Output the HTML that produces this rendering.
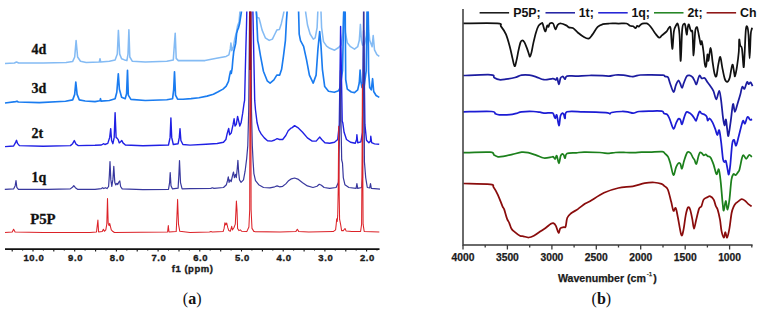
<!DOCTYPE html>
<html><head><meta charset="utf-8"><title>Figure</title>
<style>
html,body{margin:0;padding:0;background:#fff;}
body{width:763px;height:313px;overflow:hidden;}
svg{display:block;}
.nt{font-family:"Liberation Sans",sans-serif;font-weight:bold;font-size:9.5px;fill:#1a1a1a;stroke:#1a1a1a;stroke-width:0.35px;text-anchor:middle;letter-spacing:0.6px;}
.it{font-family:"Liberation Sans",sans-serif;font-weight:bold;font-size:10.3px;fill:#1a1a1a;stroke:#1a1a1a;stroke-width:0.25px;text-anchor:middle;}
.lg{font-family:"Liberation Sans",sans-serif;font-weight:bold;font-size:12.4px;fill:#111;}
.lab{font-family:"Liberation Serif",serif;font-weight:bold;font-size:14px;fill:#111;stroke:#111;stroke-width:0.3px;}
.cap{font-family:"Liberation Serif",serif;font-size:16px;fill:#111;text-anchor:middle;}
</style></head>
<body><svg width="763" height="313" viewBox="0 0 763 313">
<defs><clipPath id="cl"><rect x="0" y="11.6" width="400" height="240"/></clipPath></defs>
<g clip-path="url(#cl)" fill="none" stroke-linejoin="round">
<polyline points="5.0,63.5 14.4,63.0 16.5,62.0 18.7,63.0 43.1,63.0 66.1,62.5 72.6,61.6 74.7,57.0 76.1,40.5 77.6,57.0 80.5,61.3 86.2,62.5 99.3,62.0 100.0,58.7 100.7,62.0 109.4,61.3 115.1,59.9 117.3,54.1 118.4,30.4 119.7,54.1 121.6,58.7 124.5,59.9 126.9,60.6 128.0,54.1 128.9,29.7 129.8,57.0 132.4,61.3 145.3,62.0 166.8,61.3 173.3,59.9 174.7,39.8 175.2,33.3 176.2,58.4 178.3,60.6 195.0,60.6 205.0,60.6 216.5,58.3 226.1,56.4 228.9,54.8 230.3,48.7 230.9,43.0 231.8,50.6 233.4,46.8 234.7,39.1 236.6,31.5 237.6,25.7 239.1,21.9 239.9,11.9 240.4,2.0 255.8,2.0 256.2,11.8 257.0,17.4 259.0,18.0 260.2,22.5 262.1,30.1 265.3,37.8 269.2,40.4 272.4,39.1 274.9,34.0 276.8,30.1 279.4,29.5 281.3,23.7 283.0,16.1 283.9,11.8 284.3,2.0 305.2,2.0 305.6,11.8 307.5,25.0 310.1,34.0 313.3,39.1 315.2,37.8 317.1,27.6 317.8,11.8 318.2,2.0 320.6,2.0 321.0,11.8 321.6,27.6 323.5,41.6 326.6,46.1 329.8,48.3 334.6,50.2 338.6,47.5 341.0,45.1 342.9,32.3 343.6,11.8 343.8,2.0 344.1,2.0 344.2,11.8 345.4,32.3 347.3,42.7 350.5,46.7 354.5,49.1 357.7,46.7 359.3,40.3 360.4,24.4 361.4,40.3 362.5,45.1 364.5,44.4 366.5,35.4 367.2,11.8 367.5,2.0 368.0,2.0 368.3,11.8 368.8,30.4 369.7,40.3 372.1,46.7 373.2,35.5 374.5,49.9 376.9,54.7 379.3,56.4" stroke="#84bbf4" stroke-width="1.55"/>
<polyline points="5.0,103.0 15.7,101.6 17.0,101.2 18.3,102.0 39.3,102.6 65.5,101.2 72.7,99.9 74.7,94.4 75.8,82.0 77.1,94.4 79.3,99.9 85.2,101.0 95.0,101.6 100.0,100.8 100.5,98.7 101.0,101.1 109.4,100.5 115.1,98.7 116.8,92.2 118.3,73.8 119.4,89.3 121.6,97.2 125.2,98.7 126.6,93.6 127.5,70.4 128.3,95.1 130.9,99.4 145.3,100.5 166.8,99.7 172.6,98.7 173.7,89.3 174.5,71.8 175.5,95.1 177.6,99.1 183.0,99.3 191.0,98.6 199.0,97.7 207.0,96.1 213.4,94.2 218.2,91.8 223.0,89.1 226.2,86.2 228.5,81.4 229.7,75.0 230.6,71.0 231.3,73.4 232.2,67.8 232.8,60.4 233.7,51.8 235.7,43.2 236.6,33.6 237.6,29.8 238.5,27.8 239.5,24.0 241.4,11.8 241.8,2.0 256.0,2.0 256.4,11.8 257.7,40.6 258.6,44.6 260.5,55.9 263.4,71.2 267.2,80.8 270.1,83.1 273.9,79.9 276.8,75.1 279.7,75.1 281.6,69.3 283.5,55.9 285.4,40.6 286.4,21.4 287.1,11.8 287.5,2.0 298.2,2.0 298.6,11.8 299.2,34.2 300.5,40.6 303.6,46.3 306.5,59.7 309.4,75.1 313.2,83.1 316.1,75.1 318.0,48.3 319.7,31.6 320.9,44.4 322.4,69.3 324.7,86.6 328.5,91.3 334.3,92.3 338.6,90.7 340.2,87.5 342.5,70.6 343.8,11.8 344.3,2.0 344.8,2.0 345.2,11.8 345.7,79.5 347.3,89.1 351.3,92.0 354.5,92.6 357.7,89.9 359.3,82.7 360.1,70.0 361.1,82.7 362.0,87.5 364.0,87.6 366.2,70.6 367.1,11.8 367.4,2.0 367.9,2.0 368.1,11.8 368.6,71.6 369.7,87.5 371.3,89.9 372.6,78.7 373.7,91.5 376.1,95.5 379.3,97.4" stroke="#1a7cf0" stroke-width="1.65"/>
<polyline points="5.0,146.6 13.6,146.0 15.5,142.7 16.5,140.3 17.5,143.4 19.4,145.6 43.1,146.3 70.4,145.6 72.6,143.7 74.3,140.6 76.1,144.2 78.3,145.6 95.0,145.3 101.4,145.0 103.8,143.7 104.9,144.5 107.8,143.4 109.7,137.4 110.7,128.6 111.6,140.5 112.9,143.7 114.2,137.4 115.1,112.6 116.1,137.4 117.0,138.1 118.2,139.7 119.3,142.9 120.6,141.8 121.8,140.5 123.0,142.9 125.4,145.0 142.9,145.7 168.5,145.0 170.1,137.4 170.9,117.9 171.7,137.4 173.3,144.5 178.1,143.7 179.3,137.4 180.0,128.6 180.9,140.5 182.9,144.5 190.0,145.1 206.0,144.3 217.2,143.5 223.5,142.3 225.9,139.5 227.1,133.9 228.0,130.8 228.7,128.4 229.6,134.7 231.2,133.1 233.1,124.4 234.1,118.8 235.0,126.0 236.3,124.4 237.6,116.4 238.7,121.2 239.8,126.0 241.1,122.8 242.7,113.2 244.0,103.6 244.6,100.4 245.2,75.4 245.8,50.4 246.5,25.4 246.8,11.8 247.0,2.0 252.7,2.0 252.9,11.8 253.3,30.4 253.9,60.4 254.4,85.4 254.7,100.4 255.5,110.0 257.1,122.8 259.0,130.0 261.1,133.9 264.3,137.9 267.5,140.7 271.5,141.1 274.7,140.0 277.1,138.7 279.5,139.5 282.7,139.5 285.8,135.5 288.2,130.8 290.6,128.4 292.2,127.6 294.6,125.6 297.8,127.6 302.6,132.3 307.4,137.9 312.2,141.1 316.2,141.1 318.5,138.4 319.8,137.1 321.7,139.5 324.9,142.7 329.7,143.2 334.5,142.3 337.7,139.5 339.3,124.4 340.2,60.4 340.6,26.4 341.2,60.4 342.2,121.2 342.8,122.8 344.1,132.3 346.5,139.5 350.5,142.3 355.3,143.2 356.6,139.5 356.9,134.7 357.7,142.7 360.9,141.9 362.5,132.3 363.3,60.4 363.6,30.4 364.1,60.4 364.9,124.4 366.5,140.3 368.9,142.7 370.5,141.1 370.8,136.3 371.6,142.7 374.5,143.9 379.2,144.3" stroke="#2020e4" stroke-width="1.4"/>
<polyline points="4.8,189.4 13.6,188.9 15.2,185.7 16.0,180.6 16.8,187.3 18.4,189.3 47.9,189.4 70.3,188.9 72.7,187.0 73.8,185.7 75.4,187.7 77.5,189.3 95.0,189.3 101.4,188.6 102.7,187.7 103.8,188.6 105.4,187.7 107.0,188.6 108.6,186.5 109.4,174.6 110.0,161.5 110.8,179.4 111.8,186.5 112.9,179.4 113.8,166.3 114.8,182.6 115.8,184.9 116.9,183.3 117.7,184.5 119.0,181.8 119.8,181.0 120.6,186.5 122.2,188.9 142.9,189.7 168.5,189.3 169.6,182.6 170.2,172.6 171.0,185.7 172.5,188.9 178.1,188.1 178.9,174.6 179.5,160.5 180.5,182.6 182.1,188.9 190.0,188.7 210.8,188.4 212.4,187.8 214.0,188.4 223.5,187.5 226.4,184.7 227.5,180.7 228.3,176.8 229.1,182.3 229.9,179.9 231.2,181.5 232.8,174.4 233.5,172.0 234.4,177.6 235.5,174.4 236.3,177.6 237.3,168.0 237.9,160.3 238.7,172.8 239.5,179.9 241.1,182.3 243.5,179.9 245.1,171.2 246.7,158.4 247.8,145.6 248.7,110.6 249.6,11.8 249.7,2.0 250.9,2.0 251.0,11.8 251.5,110.6 252.3,145.6 253.1,161.6 253.9,173.6 255.5,180.7 258.7,184.7 263.5,187.5 269.9,187.9 274.7,186.8 277.1,185.9 279.5,186.8 282.7,186.3 285.8,183.9 288.2,181.1 291.4,178.8 294.6,178.0 297.8,179.1 302.6,182.7 307.4,185.9 313.0,187.5 317.0,186.3 319.3,184.3 321.4,185.2 324.1,187.5 329.7,188.4 336.1,187.5 338.5,182.3 339.8,120.6 340.4,70.6 341.0,120.6 341.7,160.0 342.5,163.2 343.3,177.6 344.9,184.7 348.9,187.5 356.1,188.4 356.9,183.6 357.7,188.4 361.7,187.5 362.5,177.6 363.2,60.6 363.5,11.8 363.6,2.0 363.9,2.0 364.0,11.8 364.4,161.6 365.7,177.6 367.3,187.5 369.7,187.9 370.5,183.6 371.3,188.4 374.5,188.7 380.0,189.1" stroke="#38389e" stroke-width="1.2"/>
<polyline points="5.0,232.5 12.2,232.0 13.6,229.2 15.1,232.0 43.1,232.5 90.0,232.5 96.5,232.0 97.9,220.1 98.6,232.0 102.2,231.6 103.4,229.2 104.4,231.3 105.8,229.9 106.8,224.1 107.5,198.6 108.2,223.4 109.1,225.6 109.7,223.4 110.4,226.3 111.3,229.9 112.3,231.0 114.4,232.5 167.6,232.0 168.3,225.6 169.0,232.0 176.2,231.6 176.9,217.0 177.6,199.4 178.5,224.1 179.8,231.3 190.0,232.5 209.4,232.0 210.9,231.6 212.3,232.0 223.1,231.6 224.1,228.4 224.9,222.7 225.7,224.9 226.7,223.0 227.8,227.7 228.8,230.6 230.3,231.3 231.7,226.3 232.4,229.9 233.9,227.7 235.3,224.1 236.0,209.8 236.4,201.1 237.0,209.8 237.6,228.4 238.9,230.6 240.3,229.9 241.8,231.3 246.8,231.6 248.9,227.0 249.7,209.8 250.1,11.8 250.2,2.0 250.6,2.0 250.7,11.8 251.1,209.8 252.0,228.4 254.0,231.6 280.0,232.1 295.8,231.6 297.3,229.2 298.7,231.4 308.8,232.1 333.2,231.6 335.6,229.9 336.2,224.4 336.7,218.9 337.2,221.4 337.7,215.4 338.2,190.4 338.7,126.4 339.2,195.4 339.6,219.4 340.1,221.9 340.7,224.9 341.6,230.6 343.3,230.6 345.0,228.5 346.2,231.1 351.9,231.6 360.6,231.4 361.6,224.2 362.1,150.4 362.4,84.4 362.7,150.4 363.1,224.2 364.2,231.4 379.3,232.1" stroke="#dc2228" stroke-width="1.05"/>
<line x1="250.2" y1="11.6" x2="250.2" y2="70" stroke="#9c0c20" stroke-width="2.2"/>
</g>
<line x1="5" y1="249.2" x2="379.5" y2="249.2" stroke="#111" stroke-width="1.7"/>
<path d="M12.2,249 v2.6 M22.6,249 v1.6 M33.0,249 v2.6 M43.4,249 v1.6 M53.8,249 v2.6 M64.3,249 v1.6 M74.7,249 v2.6 M85.1,249 v1.6 M95.6,249 v2.6 M106.0,249 v1.6 M116.4,249 v2.6 M126.8,249 v1.6 M137.2,249 v2.6 M147.7,249 v1.6 M158.1,249 v2.6 M168.5,249 v1.6 M179.0,249 v2.6 M189.4,249 v1.6 M199.8,249 v2.6 M210.2,249 v1.6 M220.7,249 v2.6 M231.1,249 v1.6 M241.5,249 v2.6 M251.9,249 v1.6 M262.4,249 v2.6 M272.8,249 v1.6 M283.2,249 v2.6 M293.6,249 v1.6 M304.1,249 v2.6 M314.5,249 v1.6 M324.9,249 v2.6 M335.3,249 v1.6 M345.8,249 v2.6 M356.2,249 v1.6 M366.6,249 v2.6 M377.0,249 v1.6" stroke="#111" stroke-width="1.1"/>
<text x="33.9" y="260.8" class="nt">10.0</text>
<text x="75.6" y="260.8" class="nt">9.0</text>
<text x="117.3" y="260.8" class="nt">8.0</text>
<text x="159.0" y="260.8" class="nt">7.0</text>
<text x="200.7" y="260.8" class="nt">6.0</text>
<text x="242.4" y="260.8" class="nt">5.0</text>
<text x="284.1" y="260.8" class="nt">4.0</text>
<text x="325.8" y="260.8" class="nt">3.0</text>
<text x="367.5" y="260.8" class="nt">2.0</text>
<text x="192.6" y="271.5" class="nt" style="letter-spacing:0.5px">f1 (ppm)</text>
<text x="31.5" y="53.8" class="lab">4d</text>
<text x="31.5" y="92.8" class="lab">3d</text>
<text x="31.5" y="137.6" class="lab">2t</text>
<text x="31.5" y="181.7" class="lab">1q</text>
<text x="30.2" y="223.7" class="lab" style="font-size:14.8px">P5P</text>
<g fill="none" stroke-linejoin="round" stroke-width="1.75">
<path d="M463.30,23.40 C468.98,23.40 491.12,22.90 497.40,23.40 C503.68,23.90 499.57,24.57 501.00,26.40 C502.43,28.23 504.50,30.90 506.00,34.40 C507.50,37.90 508.92,43.40 510.00,47.40 C511.08,51.40 511.73,55.27 512.50,58.40 C513.27,61.53 513.93,65.87 514.60,66.20 C515.27,66.53 515.85,63.03 516.50,60.40 C517.15,57.77 517.83,53.40 518.50,50.40 C519.17,47.40 519.87,44.07 520.50,42.40 C521.13,40.73 521.63,40.40 522.30,40.40 C522.97,40.40 523.72,41.07 524.50,42.40 C525.28,43.73 526.25,46.40 527.00,48.40 C527.75,50.40 528.50,53.03 529.00,54.40 C529.50,55.77 529.58,56.93 530.00,56.60 C530.42,56.27 530.92,54.77 531.50,52.40 C532.08,50.03 532.75,45.73 533.50,42.40 C534.25,39.07 535.17,35.15 536.00,32.40 C536.83,29.65 537.60,27.40 538.50,25.90 C539.40,24.40 540.72,23.80 541.40,23.40 C542.08,23.00 541.97,22.17 542.60,23.50 C543.23,24.83 544.43,31.08 545.20,31.40 C545.97,31.72 546.65,26.17 547.20,25.40 C547.75,24.63 548.07,27.12 548.50,26.80 C548.93,26.48 549.03,24.05 549.80,23.50 C550.57,22.95 552.15,22.52 553.10,23.50 C554.05,24.48 554.73,29.18 555.50,29.40 C556.27,29.62 556.78,25.78 557.70,24.80 C558.62,23.82 559.58,23.40 561.00,23.50 C562.42,23.60 564.90,24.75 566.20,25.40 C567.50,26.05 567.70,26.95 568.80,27.40 C569.90,27.85 571.27,27.22 572.80,28.10 C574.33,28.98 576.27,31.28 578.00,32.70 C579.73,34.12 581.45,35.62 583.20,36.60 C584.95,37.58 586.97,38.93 588.50,38.60 C590.03,38.27 590.87,36.57 592.40,34.60 C593.93,32.63 595.95,28.53 597.70,26.80 C599.45,25.07 600.93,24.75 602.90,24.20 C604.87,23.65 606.88,23.62 609.50,23.50 C612.12,23.38 615.77,23.50 618.60,23.50 C621.43,23.50 624.60,23.12 626.50,23.50 C628.40,23.88 628.88,25.33 630.00,25.80 C631.12,26.27 632.27,25.90 633.20,26.30 C634.13,26.70 634.93,28.28 635.60,28.20 C636.27,28.12 636.67,26.07 637.20,25.80 C637.73,25.53 638.13,26.87 638.80,26.60 C639.47,26.33 640.27,24.73 641.20,24.20 C642.13,23.67 643.47,23.53 644.40,23.40 C645.33,23.27 646.02,23.13 646.80,23.40 C647.58,23.67 648.18,24.07 649.10,25.00 C650.02,25.93 651.23,27.53 652.30,29.00 C653.37,30.47 654.35,32.35 655.50,33.80 C656.65,35.25 658.13,37.43 659.20,37.70 C660.27,37.97 660.65,36.45 661.90,35.40 C663.15,34.35 665.50,32.73 666.70,31.40 C667.90,30.07 668.43,27.80 669.10,27.40 C669.77,27.00 670.17,25.42 670.70,29.00 C671.23,32.58 671.77,48.50 672.30,48.90 C672.83,49.30 673.23,35.38 673.90,31.40 C674.57,27.42 675.63,26.20 676.30,25.00 C676.97,23.80 677.37,22.63 677.90,24.20 C678.43,25.77 679.03,28.28 679.50,34.40 C679.97,40.52 680.25,61.75 680.70,60.90 C681.15,60.05 681.63,35.48 682.20,29.30 C682.77,23.12 683.57,24.35 684.10,23.80 C684.63,23.25 684.97,24.18 685.40,26.00 C685.83,27.82 686.30,34.52 686.70,34.70 C687.10,34.88 687.43,28.82 687.80,27.10 C688.17,25.38 688.48,24.03 688.90,24.40 C689.32,24.77 689.88,28.13 690.30,29.30 C690.72,30.47 691.03,30.87 691.40,31.40 C691.77,31.93 692.13,28.50 692.50,32.50 C692.87,36.50 693.15,55.58 693.60,55.40 C694.05,55.22 694.67,36.12 695.20,31.40 C695.73,26.68 696.35,27.27 696.80,27.10 C697.25,26.93 697.43,28.40 697.90,30.40 C698.37,32.40 699.13,36.75 699.60,39.10 C700.07,41.45 700.35,44.15 700.70,44.50 C701.05,44.85 701.25,40.12 701.70,41.20 C702.15,42.28 702.87,47.10 703.40,51.00 C703.93,54.90 704.43,62.13 704.90,64.60 C705.37,67.07 705.77,67.50 706.20,65.80 C706.63,64.10 707.13,55.25 707.50,54.40 C707.87,53.55 707.87,61.77 708.40,60.70 C708.93,59.63 710.00,47.78 710.70,48.00 C711.40,48.22 711.97,57.75 712.60,62.00 C713.23,66.25 713.87,71.15 714.50,73.50 C715.13,75.85 715.77,77.58 716.40,76.10 C717.03,74.62 717.65,67.80 718.30,64.60 C718.95,61.40 719.65,56.48 720.30,56.90 C720.95,57.32 721.47,63.48 722.20,67.10 C722.93,70.72 723.85,76.15 724.70,78.60 C725.55,81.05 726.45,82.00 727.30,81.80 C728.15,81.60 728.95,80.27 729.80,77.40 C730.65,74.53 731.65,65.25 732.40,64.60 C733.15,63.95 733.87,71.58 734.30,73.50 C734.73,75.42 734.57,77.17 735.00,76.10 C735.43,75.03 736.27,71.15 736.90,67.10 C737.53,63.05 738.42,56.38 738.80,51.80 C739.18,47.22 738.95,40.63 739.20,39.60 C739.45,38.57 739.83,44.07 740.30,45.60 C740.77,47.13 741.45,45.22 742.00,48.80 C742.55,52.38 743.18,65.97 743.60,67.10 C744.02,68.23 744.13,61.72 744.50,55.60 C744.87,49.48 745.35,35.23 745.80,30.40 C746.25,25.57 746.75,25.88 747.20,26.60 C747.65,27.32 748.10,29.40 748.50,34.70 C748.90,40.00 749.23,58.40 749.60,58.40 C749.97,58.40 750.35,39.55 750.70,34.70 C751.05,29.85 751.45,30.47 751.70,29.30 C751.95,28.13 752.12,27.97 752.20,27.70" stroke="#111111"/>
<path d="M463.30,75.50 C467.88,75.38 485.67,74.47 490.80,74.80 C495.93,75.13 492.68,76.68 494.10,77.50 C495.52,78.32 497.33,79.42 499.30,79.70 C501.27,79.98 503.28,79.57 505.90,79.20 C508.52,78.83 512.38,78.17 515.00,77.50 C517.62,76.83 519.18,75.58 521.60,75.20 C524.02,74.82 527.10,74.93 529.50,75.20 C531.90,75.47 533.60,76.05 536.00,76.80 C538.40,77.55 541.28,79.37 543.90,79.70 C546.52,80.03 550.03,78.95 551.70,78.80 C553.37,78.65 553.20,78.60 553.90,78.80 C554.60,79.00 555.35,80.12 555.90,80.00 C556.45,79.88 556.70,77.37 557.20,78.10 C557.70,78.83 558.35,84.40 558.90,84.40 C559.45,84.40 559.90,79.42 560.50,78.10 C561.10,76.78 561.95,76.60 562.50,76.50 C563.05,76.40 563.37,77.05 563.80,77.50 C564.23,77.95 564.57,79.43 565.10,79.20 C565.63,78.97 565.15,76.62 567.00,76.10 C568.85,75.58 572.48,76.20 576.20,76.10 C579.92,76.00 584.93,75.57 589.30,75.50 C593.67,75.43 599.12,75.60 602.40,75.70 C605.68,75.80 606.82,76.22 609.00,76.10 C611.18,75.98 613.10,75.15 615.50,75.00 C617.90,74.85 620.77,74.95 623.40,75.20 C626.03,75.45 629.33,76.35 631.30,76.50 C633.27,76.65 633.68,76.35 635.20,76.10 C636.72,75.85 637.93,75.22 640.40,75.00 C642.87,74.78 646.23,74.78 650.00,74.80 C653.77,74.82 660.48,74.82 663.00,75.10 C665.52,75.38 664.27,76.15 665.10,76.50 C665.93,76.85 667.15,76.00 668.00,77.20 C668.85,78.40 669.28,81.23 670.20,83.70 C671.12,86.17 672.55,91.77 673.50,92.00 C674.45,92.23 675.08,87.02 675.90,85.10 C676.72,83.18 677.67,80.73 678.40,80.50 C679.13,80.27 679.68,82.45 680.30,83.70 C680.92,84.95 681.52,88.12 682.10,88.00 C682.68,87.88 683.03,84.97 683.80,83.00 C684.57,81.03 685.73,77.47 686.70,76.20 C687.67,74.93 688.63,75.23 689.60,75.40 C690.57,75.57 691.67,76.30 692.50,77.20 C693.33,78.10 693.95,79.60 694.60,80.80 C695.25,82.00 695.80,84.75 696.40,84.40 C697.00,84.05 697.65,80.20 698.20,78.70 C698.75,77.20 699.12,75.45 699.70,75.40 C700.28,75.35 700.88,77.97 701.70,78.40 C702.52,78.83 703.63,77.35 704.60,78.00 C705.57,78.65 706.67,81.13 707.50,82.30 C708.33,83.47 708.62,83.58 709.60,85.00 C710.58,86.42 712.28,88.40 713.40,90.80 C714.52,93.20 715.33,99.40 716.30,99.40 C717.27,99.40 718.40,90.65 719.20,90.80 C720.00,90.95 720.47,95.83 721.10,100.30 C721.73,104.77 722.43,113.43 723.00,117.60 C723.57,121.77 724.02,124.98 724.50,125.30 C724.98,125.62 725.45,118.87 725.90,119.50 C726.35,120.13 726.78,126.38 727.20,129.10 C727.62,131.82 727.82,137.08 728.40,135.80 C728.98,134.52 729.93,126.67 730.70,121.40 C731.47,116.13 732.30,105.80 733.00,104.20 C733.70,102.60 734.17,111.80 734.90,111.80 C735.63,111.80 736.50,107.07 737.40,104.20 C738.30,101.33 739.50,97.48 740.30,94.60 C741.10,91.72 741.50,87.87 742.20,86.90 C742.90,85.93 743.70,89.62 744.50,88.80 C745.30,87.98 746.30,82.77 747.00,82.00 C747.70,81.23 748.10,84.15 748.70,84.20 C749.30,84.25 749.97,81.98 750.60,82.30 C751.23,82.62 752.18,85.47 752.50,86.10" stroke="#1c1ca0"/>
<path d="M463.30,111.80 C468.00,111.75 486.15,111.17 491.50,111.50 C496.85,111.83 494.10,113.25 495.40,113.80 C496.70,114.35 496.90,114.65 499.30,114.80 C501.70,114.95 506.95,114.93 509.80,114.70 C512.65,114.47 514.43,113.88 516.40,113.40 C518.37,112.92 518.77,112.12 521.60,111.80 C524.43,111.48 530.35,111.43 533.40,111.50 C536.45,111.57 538.15,111.93 539.90,112.20 C541.65,112.47 541.93,113.00 543.90,113.10 C545.87,113.20 550.13,112.68 551.70,112.80 C553.27,112.92 552.72,112.88 553.30,113.80 C553.88,114.72 554.62,118.08 555.20,118.30 C555.78,118.52 556.18,113.88 556.80,115.10 C557.42,116.32 558.28,125.50 558.90,125.60 C559.52,125.70 559.90,117.78 560.50,115.70 C561.10,113.62 561.95,113.32 562.50,113.10 C563.05,112.88 563.37,113.53 563.80,114.40 C564.23,115.27 564.57,118.73 565.10,118.30 C565.63,117.87 564.05,112.88 567.00,111.80 C569.95,110.72 577.98,111.75 582.80,111.80 C587.62,111.85 591.75,111.93 595.90,112.10 C600.05,112.27 605.35,112.52 607.70,112.80 C610.05,113.08 609.35,113.85 610.00,113.80 C610.65,113.75 609.58,112.88 611.60,112.50 C613.62,112.12 619.27,111.57 622.10,111.50 C624.93,111.43 626.75,111.83 628.60,112.10 C630.45,112.37 631.45,113.20 633.20,113.10 C634.95,113.00 636.30,111.83 639.10,111.50 C641.90,111.17 646.22,111.15 650.00,111.10 C653.78,111.05 659.45,110.78 661.80,111.20 C664.15,111.62 663.18,113.02 664.10,113.60 C665.02,114.18 666.37,113.78 667.30,114.70 C668.23,115.62 668.68,116.77 669.70,119.10 C670.72,121.43 672.33,128.03 673.40,128.70 C674.47,129.37 675.25,124.75 676.10,123.10 C676.95,121.45 677.78,119.33 678.50,118.80 C679.22,118.27 679.82,118.98 680.40,119.90 C680.98,120.82 681.38,124.68 682.00,124.30 C682.62,123.92 683.35,119.65 684.10,117.60 C684.85,115.55 685.57,112.75 686.50,112.00 C687.43,111.25 688.77,112.57 689.70,113.10 C690.63,113.63 691.30,114.32 692.10,115.20 C692.90,116.08 693.83,117.48 694.50,118.40 C695.17,119.32 695.57,121.10 696.10,120.70 C696.63,120.30 697.12,117.53 697.70,116.00 C698.28,114.47 698.95,111.90 699.60,111.50 C700.25,111.10 700.73,113.07 701.60,113.60 C702.47,114.13 703.95,114.20 704.80,114.70 C705.65,115.20 706.22,115.63 706.70,116.60 C707.18,117.57 707.22,120.18 707.70,120.50 C708.18,120.82 708.80,118.18 709.60,118.50 C710.40,118.82 711.55,120.63 712.50,122.40 C713.45,124.17 714.50,127.00 715.30,129.10 C716.10,131.20 716.65,134.80 717.30,135.00 C717.95,135.20 718.57,129.17 719.20,130.30 C719.83,131.43 720.47,137.00 721.10,141.80 C721.73,146.60 722.43,155.73 723.00,159.10 C723.57,162.47 724.02,161.68 724.50,162.00 C724.98,162.32 725.35,159.57 725.90,161.00 C726.45,162.43 727.32,168.37 727.80,170.60 C728.28,172.83 728.38,175.37 728.80,174.40 C729.22,173.43 729.73,169.90 730.30,164.80 C730.87,159.70 731.57,147.95 732.20,143.80 C732.83,139.65 733.47,139.58 734.10,139.90 C734.73,140.22 735.30,146.02 736.00,145.70 C736.70,145.38 737.43,141.20 738.30,138.00 C739.17,134.80 740.40,129.37 741.20,126.50 C742.00,123.63 742.47,121.28 743.10,120.80 C743.73,120.32 744.27,124.25 745.00,123.60 C745.73,122.95 746.63,117.53 747.50,116.90 C748.37,116.27 749.43,119.42 750.20,119.80 C750.97,120.18 751.78,119.30 752.10,119.20" stroke="#1c1cd4"/>
<path d="M463.30,152.70 C467.77,152.62 484.97,151.80 490.10,152.20 C495.23,152.60 492.78,154.33 494.10,155.10 C495.42,155.87 496.47,156.58 498.00,156.80 C499.53,157.02 500.90,156.80 503.30,156.40 C505.70,156.00 509.35,155.10 512.40,154.40 C515.45,153.70 518.97,152.48 521.60,152.20 C524.23,151.92 525.80,152.22 528.20,152.70 C530.60,153.18 533.38,154.22 536.00,155.10 C538.62,155.98 541.28,157.68 543.90,158.00 C546.52,158.32 550.13,157.20 551.70,157.00 C553.27,156.80 552.72,156.47 553.30,156.80 C553.88,157.13 554.62,159.18 555.20,159.00 C555.78,158.82 556.18,154.98 556.80,155.70 C557.42,156.42 558.25,163.30 558.90,163.30 C559.55,163.30 560.10,157.28 560.70,155.70 C561.30,154.12 561.98,153.90 562.50,153.80 C563.02,153.70 563.37,154.38 563.80,155.10 C564.23,155.82 564.57,158.37 565.10,158.10 C565.63,157.83 565.15,154.38 567.00,153.50 C568.85,152.62 573.35,153.03 576.20,152.80 C579.05,152.57 580.17,152.15 584.10,152.10 C588.03,152.05 595.65,152.28 599.80,152.50 C603.95,152.72 606.38,153.40 609.00,153.40 C611.62,153.40 612.67,152.65 615.50,152.50 C618.33,152.35 622.93,152.47 626.00,152.50 C629.07,152.53 631.28,152.75 633.90,152.70 C636.52,152.65 639.02,152.30 641.70,152.20 C644.38,152.10 646.58,152.20 650.00,152.10 C653.42,152.00 659.70,151.35 662.20,151.60 C664.70,151.85 664.02,152.73 665.00,153.60 C665.98,154.47 667.18,155.08 668.10,156.80 C669.02,158.52 669.62,160.85 670.50,163.90 C671.38,166.95 672.47,174.57 673.40,175.10 C674.33,175.63 675.25,169.10 676.10,167.10 C676.95,165.10 677.78,163.63 678.50,163.10 C679.22,162.57 679.82,162.97 680.40,163.90 C680.98,164.83 681.38,169.23 682.00,168.70 C682.62,168.17 683.22,163.42 684.10,160.70 C684.98,157.98 686.23,153.67 687.30,152.40 C688.37,151.13 689.57,152.23 690.50,153.10 C691.43,153.97 692.23,156.47 692.90,157.60 C693.57,158.73 693.92,158.85 694.50,159.90 C695.08,160.95 695.73,164.55 696.40,163.90 C697.07,163.25 697.90,157.92 698.50,156.00 C699.10,154.08 699.43,152.85 700.00,152.40 C700.57,151.95 701.27,152.82 701.90,153.30 C702.53,153.78 703.15,155.13 703.80,155.30 C704.45,155.47 705.15,154.15 705.80,154.30 C706.45,154.45 706.92,155.67 707.70,156.20 C708.48,156.73 709.52,156.10 710.50,157.50 C711.48,158.90 712.60,161.82 713.60,164.60 C714.60,167.38 715.63,173.40 716.50,174.20 C717.37,175.00 718.10,168.13 718.80,169.40 C719.50,170.67 720.07,176.22 720.70,181.80 C721.33,187.38 722.08,198.10 722.60,202.90 C723.12,207.70 723.28,210.92 723.80,210.60 C724.32,210.28 725.07,201.17 725.70,201.00 C726.33,200.83 726.97,209.92 727.60,209.60 C728.23,209.28 728.87,204.05 729.50,199.10 C730.13,194.15 730.75,184.05 731.40,179.90 C732.05,175.75 732.68,175.00 733.40,174.20 C734.12,173.40 734.93,175.43 735.70,175.10 C736.47,174.77 737.37,173.15 738.00,172.20 C738.63,171.25 738.87,171.63 739.50,169.40 C740.13,167.17 741.17,161.20 741.80,158.80 C742.43,156.40 742.57,155.00 743.30,155.00 C744.03,155.00 745.23,158.80 746.20,158.80 C747.17,158.80 748.15,155.32 749.10,155.00 C750.05,154.68 751.43,156.58 751.90,156.90" stroke="#1c801c"/>
<path d="M463.40,183.50 C467.87,183.65 485.17,183.77 490.20,184.40 C495.23,185.03 492.30,185.52 493.60,187.30 C494.90,189.08 496.52,191.93 498.00,195.10 C499.48,198.27 501.48,203.97 502.50,206.30 C503.52,208.63 503.35,207.05 504.10,209.10 C504.85,211.15 506.13,216.27 507.00,218.60 C507.87,220.93 508.55,221.42 509.30,223.10 C510.05,224.78 510.62,227.23 511.50,228.70 C512.38,230.17 513.20,230.72 514.60,231.90 C516.00,233.08 518.43,235.07 519.90,235.80 C521.37,236.53 521.93,236.02 523.40,236.30 C524.87,236.58 526.95,237.58 528.70,237.50 C530.45,237.42 531.85,236.88 533.90,235.80 C535.95,234.72 538.95,232.38 541.00,231.00 C543.05,229.62 544.60,228.67 546.20,227.50 C547.80,226.33 549.42,224.73 550.60,224.00 C551.78,223.27 552.42,222.80 553.30,223.10 C554.18,223.40 555.03,224.18 555.90,225.80 C556.77,227.42 557.77,232.37 558.50,232.80 C559.23,233.23 559.42,229.33 560.30,228.40 C561.18,227.47 562.92,227.50 563.80,227.20 C564.68,226.90 565.02,228.17 565.60,226.60 C566.18,225.03 566.43,219.98 567.30,217.80 C568.17,215.62 569.03,214.95 570.80,213.50 C572.57,212.05 575.55,210.72 577.90,209.10 C580.25,207.48 582.88,205.12 584.90,203.80 C586.92,202.48 586.82,203.03 590.00,201.20 C593.18,199.37 599.27,195.00 604.00,192.80 C608.73,190.60 613.60,189.08 618.40,188.00 C623.20,186.92 628.42,187.10 632.80,186.30 C637.18,185.50 641.12,183.83 644.70,183.20 C648.28,182.57 651.50,182.38 654.30,182.50 C657.10,182.62 659.80,183.28 661.50,183.90 C663.20,184.52 663.45,185.27 664.50,186.20 C665.55,187.13 666.68,186.90 667.80,189.50 C668.92,192.10 670.27,198.25 671.20,201.80 C672.13,205.35 672.65,209.75 673.40,210.80 C674.15,211.85 674.95,206.98 675.70,208.10 C676.45,209.22 676.97,213.02 677.90,217.50 C678.83,221.98 680.37,232.95 681.30,235.00 C682.23,237.05 682.77,233.08 683.50,229.80 C684.23,226.52 684.95,219.03 685.70,215.30 C686.45,211.57 687.25,208.33 688.00,207.40 C688.75,206.47 689.47,207.65 690.20,209.70 C690.93,211.75 691.77,216.53 692.40,219.70 C693.03,222.87 693.37,228.70 694.00,228.70 C694.63,228.70 695.35,223.05 696.20,219.70 C697.05,216.35 698.23,210.83 699.10,208.60 C699.97,206.37 700.65,207.80 701.40,206.30 C702.15,204.80 702.67,201.08 703.60,199.60 C704.53,198.12 705.88,197.95 707.00,197.40 C708.12,196.85 709.18,195.93 710.30,196.30 C711.42,196.67 712.77,197.93 713.70,199.60 C714.63,201.27 715.23,204.62 715.90,206.30 C716.57,207.98 717.02,207.47 717.70,209.70 C718.38,211.93 719.37,216.17 720.00,219.70 C720.63,223.23 720.87,227.92 721.50,230.90 C722.13,233.88 723.17,237.42 723.80,237.60 C724.43,237.78 724.75,232.00 725.30,232.00 C725.85,232.00 726.42,238.15 727.10,237.60 C727.78,237.05 728.65,232.80 729.40,228.70 C730.15,224.60 730.87,216.73 731.60,213.00 C732.33,209.27 733.05,207.97 733.80,206.30 C734.55,204.63 735.35,203.82 736.10,203.00 C736.85,202.18 737.37,202.03 738.30,201.40 C739.23,200.77 740.58,199.32 741.70,199.20 C742.82,199.08 743.88,199.88 745.00,200.70 C746.12,201.52 747.28,203.17 748.40,204.10 C749.52,205.03 751.15,205.93 751.70,206.30" stroke="#8a0c0c"/>
</g>
<path d="M463,9.1 V245 H752.6" fill="none" stroke="#3a3a3a" stroke-width="1.5"/>
<path d="M463.0,245 v4.5 M485.2,245 v2.5 M507.4,245 v4.5 M529.7,245 v2.5 M551.9,245 v4.5 M574.1,245 v2.5 M596.3,245 v4.5 M618.5,245 v2.5 M640.7,245 v4.5 M663.0,245 v2.5 M685.2,245 v4.5 M707.4,245 v2.5 M729.6,245 v4.5 M751.8,245 v2.5" stroke="#3a3a3a" stroke-width="1.3"/>
<text x="463.0" y="261" class="it">4000</text>
<text x="507.4" y="261" class="it">3500</text>
<text x="551.9" y="261" class="it">3000</text>
<text x="596.3" y="261" class="it">2500</text>
<text x="640.7" y="261" class="it">2000</text>
<text x="685.2" y="261" class="it">1500</text>
<text x="729.6" y="261" class="it">1000</text>
<text x="607.4" y="282" class="it" text-anchor="middle" style="font-size:10.6px">Wavenumber (cm<tspan dx="0.8" dy="-5.6" font-size="6.2" font-weight="normal">-1</tspan><tspan dx="1.2" dy="5.6">)</tspan></text>
<line x1="479.6" y1="12.8" x2="509.1" y2="12.8" stroke="#111111" stroke-width="1.5"/>
<text x="513.1999999999999" y="16.8" class="lg">P5P;</text>
<line x1="545.5" y1="12.8" x2="575.0" y2="12.8" stroke="#1c1ca0" stroke-width="1.5"/>
<text x="578.6999999999999" y="16.8" class="lg">1t;</text>
<line x1="598.2" y1="12.8" x2="627.7" y2="12.8" stroke="#1c1cd4" stroke-width="1.5"/>
<text x="631.4" y="16.8" class="lg">1q;</text>
<line x1="654" y1="12.8" x2="683.5" y2="12.8" stroke="#1c801c" stroke-width="1.5"/>
<text x="687.4" y="16.8" class="lg">2t;</text>
<line x1="706.6" y1="12.8" x2="736.1" y2="12.8" stroke="#8a0c0c" stroke-width="1.5"/>
<text x="740.0" y="16.8" class="lg">Ch</text>
<text x="192.2" y="304" class="cap">(<tspan font-weight="bold">a</tspan>)</text>
<text x="601.4" y="304" class="cap">(<tspan font-weight="bold">b</tspan>)</text>
</svg></body></html>
